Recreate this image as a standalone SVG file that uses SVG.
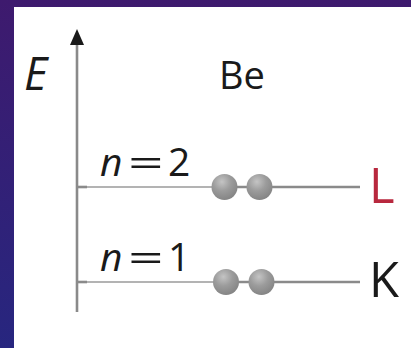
<svg xmlns="http://www.w3.org/2000/svg" width="411" height="348" viewBox="0 0 411 348">
<defs>
<linearGradient id="bg" x1="0" y1="0" x2="0" y2="1">
<stop offset="0" stop-color="#3e1a6e"/>
<stop offset="1" stop-color="#27267f"/>
</linearGradient>
<radialGradient id="ball" cx="0.4" cy="0.3" r="0.7">
<stop offset="0" stop-color="#c4c4c4"/>
<stop offset="0.5" stop-color="#9c9c9c"/>
<stop offset="1" stop-color="#858585"/>
</radialGradient>
<style>
.thin{stroke:#9a9a9a;stroke-width:1.3;fill:none}
.thick{stroke:#8a8a8a;stroke-width:2.6;fill:none}
.lbl{font-family:"Open Sans","Liberation Sans",sans-serif;fill:#1a1a1a}
.it{font-style:italic}
.n{font-size:39px}
</style>
</defs>
<rect x="0" y="0" width="411" height="348" fill="url(#bg)"/>
<rect x="14" y="7" width="397" height="341" fill="#ffffff"/>
<g id="connectors">
<line class="thick" x1="77" y1="312" x2="77" y2="42"/>
<polygon points="77,29 70,45 84,45" fill="#1a1a1a"/>
<line class="thin" x1="77" y1="187" x2="215" y2="187"/>
<line class="thick" x1="77" y1="187" x2="87" y2="187"/>
<line class="thick" x1="235" y1="187" x2="360" y2="187"/>
<line class="thin" x1="77" y1="282" x2="215" y2="282"/>
<line class="thick" x1="77" y1="282" x2="87" y2="282"/>
<line class="thick" x1="235" y1="282" x2="360" y2="282"/>
</g>
<g id="axis-label"><text class="lbl it" x="24" y="90" font-size="45">E</text></g>
<g id="title"><text class="lbl" x="219" y="89" font-size="38">Be</text></g>
<g id="level-L">
<text class="lbl it n" x="100" y="176">n</text>
<text class="lbl n" x="0" y="0" transform="translate(128,176) scale(1.6,1)">=</text>
<text class="lbl n" x="168" y="176">2</text>
<circle cx="224.5" cy="187" r="13" fill="url(#ball)"/>
<circle cx="259.5" cy="187" r="13" fill="url(#ball)"/>
<text x="369" y="203" font-size="49" font-family="Open Sans,Liberation Sans,sans-serif" fill="#b8283e">L</text>
</g>
<g id="level-K">
<text class="lbl it n" x="100" y="271">n</text>
<text class="lbl n" x="0" y="0" transform="translate(128,271) scale(1.6,1)">=</text>
<text class="lbl n" x="168" y="271">1</text>
<circle cx="226" cy="282" r="13" fill="url(#ball)"/>
<circle cx="261.5" cy="282" r="13" fill="url(#ball)"/>
<text class="lbl" x="369" y="297" font-size="49">K</text>
</g>
</svg>
